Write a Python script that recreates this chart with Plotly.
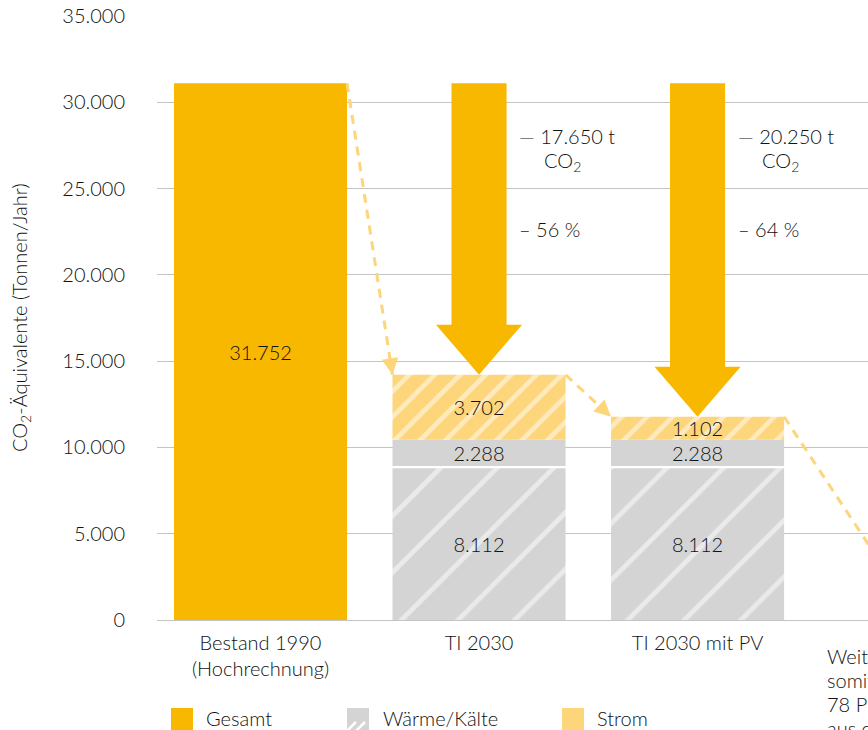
import plotly.graph_objects as go

# ---------------- data ----------------
categories = ["Bestand 1990<br>(Hochrechnung)", "TI 2030", "TI 2030 mit PV"]
x_pos = [0, 1, 2]
gesamt = [31100, None, None]              # drawn height of the 1990 bar
waerme_hatched = [None, 8800, 8800]        # Wärme/Kälte (hatched part)
waerme_solid = [None, 1530, 1530]          # Wärme/Kälte (solid part)
strom = [None, 3760, 1330]                 # Strom
gesamt_labels = ["31.752", "", ""]
waerme_hatched_labels = ["", "8.112", "8.112"]
waerme_solid_labels = ["", "2.288", "2.288"]
strom_labels = ["", "3.702", "1.102"]
reduction_t = ["", "— 17.650 t", "— 20.250 t"]
reduction_pct = ["", "– 56 %", "– 64 %"]
next_label_lines = ["Weitere Maßnahmen,", "somit Reduktion um", "78 Prozent gegenüber 1990", "aus eigener Kraft"]
next_value = 3000
next_pos = 3.25
legend_names = ["Gesamt", "Wärme/Kälte", "Strom"]

# ---------------- style ----------------
C_GESAMT = "#F8B800"
C_STROM = "#FDD57B"
C_GRAY = "#D4D4D4"
C_TEXT = "#111111"
C_GRID = "#C4C4C4"
FONT = "Lato"
FS = 20
BW = 0.792
GAP = 120
HEAD_LEN = 2900
SHAFT_HW = 0.126
HEAD_HW = 0.197

W, H = 868, 730
ML, MR, MT, MB = 157, 0, 16, 110
PW, PH = W - ML - MR, H - MT - MB


def px(xp):
    return (xp - ML) / PW


def py(yp):
    return (H - MB - yp) / PH


fig = go.Figure()

# bars
mid_base = [None if v is None else v + GAP for v in waerme_hatched]
strom_base = [None if v is None else v + GAP + m for v, m in zip(waerme_hatched, waerme_solid)]
tops = [g if g is not None else sb + s for g, sb, s in zip(gesamt, strom_base, strom)]

common = dict(width=BW, textposition="inside", insidetextanchor="middle", textangle=0,
              constraintext="none", textfont=dict(family=FONT, size=FS, color=C_TEXT, weight=300),
              hoverinfo="skip")

fig.add_trace(go.Bar(x=x_pos, y=gesamt, text=gesamt_labels, marker=dict(color=C_GESAMT, line=dict(width=0)),
                     name=legend_names[0], **common))
fig.add_trace(go.Bar(x=x_pos, y=waerme_hatched, base=[0, 0, 0], text=waerme_hatched_labels,
                     marker=dict(color=C_GRAY, line=dict(width=0),
                                 pattern=dict(shape="/", fgcolor="white", bgcolor=C_GRAY, size=40, solidity=0.12)),
                     name=legend_names[1], **common))
fig.add_trace(go.Bar(x=x_pos, y=waerme_solid, base=mid_base, text=waerme_solid_labels,
                     marker=dict(color=C_GRAY, line=dict(width=0)), name=legend_names[1], **common))
fig.add_trace(go.Bar(x=x_pos, y=strom, base=strom_base, text=strom_labels,
                     marker=dict(color=C_STROM, line=dict(width=0),
                                 pattern=dict(shape="/", fgcolor="white", bgcolor=C_STROM, size=18, solidity=0.26)),
                     name=legend_names[2], **common))

# big reduction arrows
for i in (1, 2):
    top = gesamt[0]
    tip = tops[i]
    hb = tip + HEAD_LEN
    xs = [i - SHAFT_HW, i + SHAFT_HW, i + SHAFT_HW, i + HEAD_HW, i, i - HEAD_HW, i - SHAFT_HW, i - SHAFT_HW]
    ys = [top, top, hb, hb, tip, hb, hb, top]
    fig.add_trace(go.Scatter(x=xs, y=ys, mode="lines", fill="toself", fillcolor=C_GESAMT,
                             line=dict(width=0, color=C_GESAMT), hoverinfo="skip"))

annotations = []

# dashed connectors with small arrow heads
targets_x = [x_pos[1], x_pos[2], next_pos]
targets_y = [tops[1], tops[2], next_value]
for i in range(3):
    x0, y0 = x_pos[i] + BW / 2, tops[i]
    x1, y1 = targets_x[i] - BW / 2, targets_y[i]
    fig.add_trace(go.Scatter(
        x=[x0, x1], y=[y0, y1], mode="lines", line=dict(color=C_STROM, width=3, dash="9px,7px"),
        hoverinfo="skip"))
    if i < 2:
        f = 0.06 if i == 0 else 0.2
        annotations.append(dict(x=x1, y=y1, ax=x1 - f * (x1 - x0), ay=y1 - f * (y1 - y0),
                                xref="x", yref="y", axref="x", ayref="y", text="", showarrow=True,
                                arrowhead=2, arrowsize=1.1, arrowwidth=3, arrowcolor=C_STROM, standoff=0))

# reduction texts
for i in (1, 2):
    annotations.append(dict(x=i + 0.176, y=28050, xref="x", yref="y", text=reduction_t[i], showarrow=False,
                            xanchor="left", yanchor="middle"))
    annotations.append(dict(x=i + 0.288, y=26550, xref="x", yref="y", text="CO<sub>2</sub>", showarrow=False,
                            xanchor="left", yanchor="middle"))
    annotations.append(dict(x=i + 0.176, y=22670, xref="x", yref="y", text=reduction_pct[i], showarrow=False,
                            xanchor="left", yanchor="middle"))

# y-axis title
annotations.append(dict(x=px(20), y=0.5, xref="paper", yref="paper", text="CO<sub>2</sub>-Äquivalente (Tonnen/Jahr)",
                        textangle=-90, showarrow=False, xanchor="center", yanchor="middle"))

# label of the next (cut-off) column
for k, line in enumerate(next_label_lines):
    annotations.append(dict(x=px(825), y=py(656 + 24 * k), xref="paper", yref="paper", text=line,
                            showarrow=False, xanchor="left", yanchor="middle"))

# manual legend
shapes = []
sw_left = [171, 347, 562]
txt_left = [204, 381, 595]
sw_colors = [C_GESAMT, C_GRAY, C_STROM]
for j in range(3):
    shapes.append(dict(type="rect", xref="paper", yref="paper", x0=px(sw_left[j]), x1=px(sw_left[j] + 22),
                       y0=py(708), y1=py(730), fillcolor=sw_colors[j], line=dict(width=0), layer="above"))
    annotations.append(dict(x=px(txt_left[j]), y=py(718), xref="paper", yref="paper", text=legend_names[j],
                            showarrow=False, xanchor="left", yanchor="middle"))
for a in (0, 9):
    shapes.append(dict(type="line", xref="paper", yref="paper", x0=px(347 + a), y0=py(731), x1=px(356 + a),
                       y1=py(722), line=dict(color="white", width=2.5), layer="above"))

fig.update_layout(
    width=W, height=H, margin=dict(l=ML, r=MR, t=MT, b=MB, pad=0),
    plot_bgcolor="white", paper_bgcolor="white",
    font=dict(family=FONT, size=FS, color=C_TEXT, weight=300),
    separators=",.", showlegend=False, barmode="overlay",
    annotations=annotations, shapes=shapes,
    xaxis=dict(range=[-0.4737, 2.78], tickvals=x_pos, ticktext=categories, showgrid=False,
               zeroline=False, showline=False, ticks="", ticklabelstandoff=9, fixedrange=True),
    yaxis=dict(range=[0, 35000], dtick=5000, tickformat=",d", gridcolor=C_GRID, gridwidth=1.3,
               zeroline=True, zerolinecolor=C_GRID, zerolinewidth=1.3, showline=False, ticks="",
               ticklabelstandoff=31, fixedrange=True),
)

fig.write_html("out.html")
